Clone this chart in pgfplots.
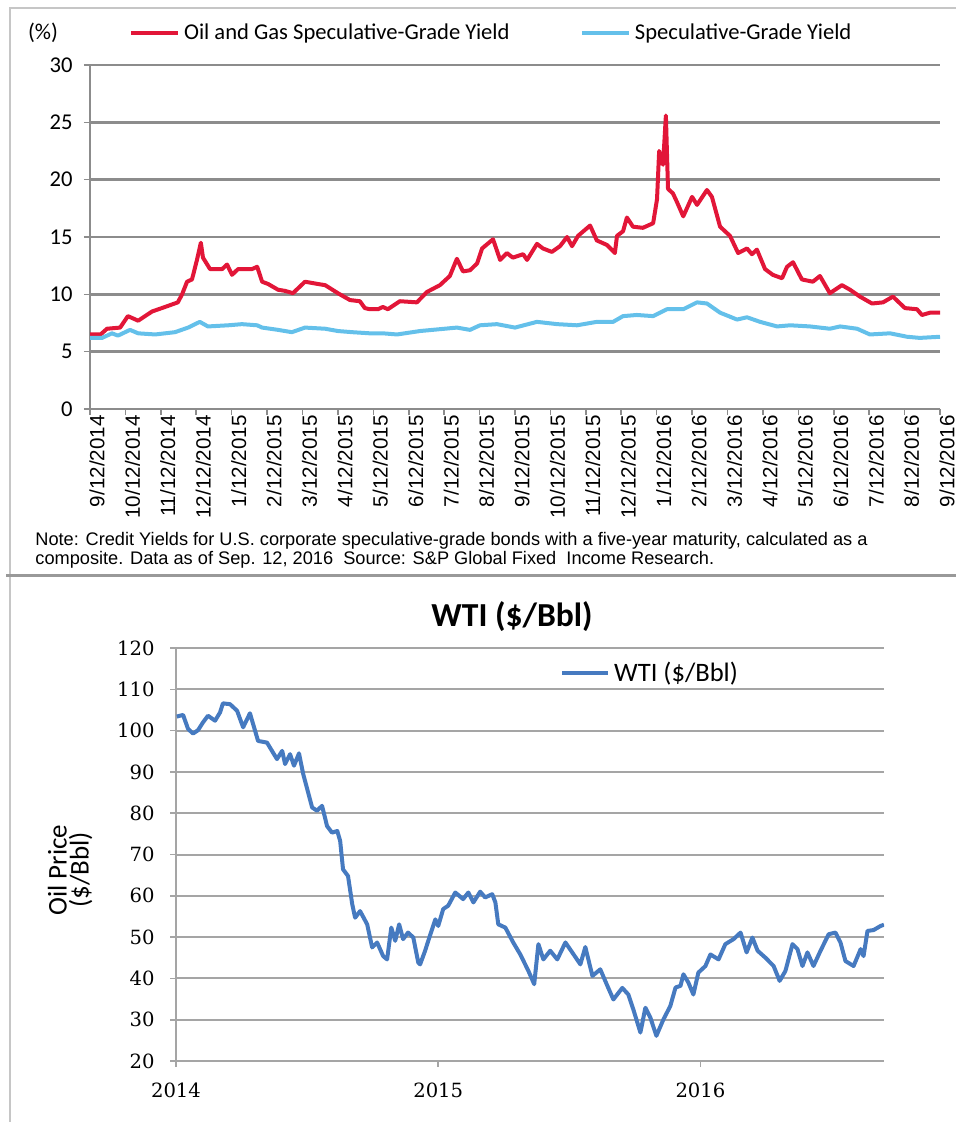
\documentclass[border=0pt]{standalone}
\usepackage{pgfplots}
\pgfplotsset{compat=1.18}
\usepackage{fontspec}
\setmainfont{Carlito}
\newfontfamily\arialf{Liberation Sans}
\newfontfamily\seriff{DejaVu Serif}
\definecolor{oilred}{RGB}{226,22,56}
\definecolor{specblue}{RGB}{100,192,234}
\definecolor{wtiblue}{RGB}{70,122,192}
\definecolor{gridgray}{RGB}{140,140,140}
\definecolor{gridlight}{RGB}{165,165,165}
\begin{document}
\begin{tikzpicture}
\path[use as bounding box] (0,0) rectangle (478pt,-561pt);
\draw[gray!45, line width=0.9pt] (5pt,-561pt) -- (5pt,-4pt) -- (478pt,-4pt);
\draw[gray!80, line width=1.5pt] (3pt,-287.5pt) -- (478pt,-287.5pt);
\node[font=\fontsize{11.3}{13}\selectfont, inner sep=0pt] at (21.5pt,-16.5pt) {(\%)};
\node[font=\arialf\fontsize{9.1}{9.6}\selectfont, anchor=west, align=left, inner sep=0pt] at (17.5pt,-275pt)
 {Note: Credit Yields for U.S. corporate speculative-grade bonds with a five-year maturity, calculated as a\\composite. Data as of Sep. 12, 2016\ \ Source: S\&P Global Fixed\ \ Income Research.};
\begin{axis}[
  at={(45pt,-204.5pt)}, anchor=south west, scale only axis,
  width=425pt, height=172pt,
  xmin=0, xmax=24, ymin=0, ymax=30,
  xtick={0,...,24},
  xticklabels={9/12/2014,10/12/2014,11/12/2014,12/12/2014,1/12/2015,2/12/2015,3/12/2015,4/12/2015,5/12/2015,6/12/2015,7/12/2015,8/12/2015,9/12/2015,10/12/2015,11/12/2015,12/12/2015,1/12/2016,2/12/2016,3/12/2016,4/12/2016,5/12/2016,6/12/2016,7/12/2016,8/12/2016,9/12/2016},
  ytick={0,5,...,30},
  axis x line*=bottom, axis y line*=left,
  axis line style={gridgray, line width=1.2pt},
  ymajorgrids, grid style={gridgray, line width=1.2pt},
  tick align=outside, major tick length=3pt,
  tick style={gridgray, line width=0.8pt},
  /pgf/number format/assume math mode=true,
  yticklabel style={font=\fontsize{11.3}{13}\selectfont, anchor=east, inner sep=0pt, xshift=-5.5pt},
  xticklabel style={font=\arialf\fontsize{10.3}{11}\selectfont, rotate=90, anchor=east, inner sep=0pt, yshift=-3.5pt},
  legend style={at={(0.045,1.093)}, anchor=west, draw=none, fill=none, inner sep=0pt,
    font=\fontsize{11.3}{13}\selectfont, legend columns=2,
    /tikz/every even column/.append style={column sep=33pt}},
  legend image code/.code={\draw[#1, line width=2.2pt] (0pt,0pt) -- (23.5pt,0pt);},
]
\addplot[oilred, line width=2pt, line join=round] coordinates {
(0.00,6.5)(0.30,6.5)(0.48,7.0)(0.85,7.1)(1.07,8.1)(1.36,7.7)(1.75,8.5)(2.12,8.9)(2.48,9.3)(2.60,10.0)
(2.74,11.1)(2.88,11.3)(3.02,13.0)(3.13,14.5)(3.19,13.2)(3.39,12.2)(3.73,12.2)(3.87,12.6)(4.01,11.7)(4.18,12.2)
(4.57,12.2)(4.72,12.4)(4.86,11.1)(5.03,10.9)(5.31,10.4)(5.51,10.3)(5.73,10.1)(6.07,11.1)(6.44,10.9)(6.64,10.8)
(7.00,10.1)(7.34,9.5)(7.62,9.4)(7.76,8.8)(7.90,8.7)(8.13,8.7)(8.27,8.9)(8.41,8.7)(8.75,9.4)(9.23,9.3)
(9.51,10.2)(9.88,10.8)(10.16,11.6)(10.36,13.1)(10.53,12.0)(10.73,12.1)(10.93,12.7)(11.07,14.0)(11.38,14.8)(11.58,13.0)
(11.77,13.6)(11.94,13.2)(12.23,13.5)(12.34,13.0)(12.62,14.4)(12.79,14.0)(13.04,13.7)(13.27,14.2)(13.47,15.0)(13.61,14.2)
(13.78,15.1)(14.12,16.0)(14.31,14.7)(14.60,14.3)(14.82,13.6)(14.88,15.1)(15.05,15.5)(15.16,16.7)(15.33,15.9)(15.61,15.8)
(15.90,16.2)(16.01,18.3)(16.07,22.5)(16.18,21.3)(16.26,25.6)(16.32,19.2)(16.46,18.8)(16.58,18.0)(16.75,16.8)(17.00,18.5)
(17.14,17.8)(17.42,19.1)(17.56,18.5)(17.79,15.9)(18.07,15.1)(18.30,13.6)(18.55,14.0)(18.69,13.5)(18.83,13.9)(19.06,12.2)
(19.28,11.7)(19.54,11.4)(19.68,12.4)(19.85,12.8)(20.10,11.3)(20.41,11.1)(20.61,11.6)(20.89,10.1)(21.23,10.8)(21.46,10.4)
(21.74,9.8)(22.08,9.2)(22.39,9.3)(22.67,9.8)(23.01,8.8)(23.35,8.7)(23.49,8.2)(23.72,8.4)(24.00,8.4)
};
\addlegendentry{Oil and Gas Speculative-Grade Yield}
\addplot[specblue, line width=2pt, line join=round] coordinates {
(0.00,6.2)(0.34,6.2)(0.62,6.6)(0.79,6.4)(1.13,6.9)(1.36,6.6)(1.84,6.5)(2.40,6.7)(2.77,7.1)(3.10,7.6)
(3.33,7.2)(3.90,7.3)(4.29,7.4)(4.72,7.3)(4.86,7.1)(5.31,6.9)(5.70,6.7)(6.07,7.1)(6.64,7.0)(7.00,6.8)
(7.40,6.7)(7.90,6.6)(8.27,6.6)(8.67,6.5)(9.32,6.8)(10.36,7.1)(10.73,6.9)(11.01,7.3)(11.49,7.4)(12.00,7.1)
(12.62,7.6)(13.19,7.4)(13.75,7.3)(14.31,7.6)(14.77,7.6)(15.05,8.1)(15.44,8.2)(15.90,8.1)(16.29,8.7)(16.75,8.7)
(17.14,9.3)(17.42,9.2)(17.79,8.4)(18.27,7.8)(18.55,8.0)(18.92,7.6)(19.40,7.2)(19.77,7.3)(20.33,7.2)(20.89,7.0)
(21.18,7.2)(21.66,7.0)(22.02,6.5)(22.59,6.6)(23.07,6.3)(23.43,6.2)(24.00,6.3)
};
\addlegendentry{Speculative-Grade Yield}
\end{axis}
\node[font=\bfseries\fontsize{16.8}{19}\selectfont, inner sep=0pt] at (256pt,-308.5pt) {WTI (\$/Bbl)};
\node[font=\fontsize{13.5}{11}\selectfont, rotate=90, align=center, inner sep=0pt] at (35pt,-435pt) {Oil Price\\(\$/Bbl)};
\begin{axis}[
  at={(88pt,-530.5pt)}, anchor=south west, scale only axis,
  width=354pt, height=206.5pt,
  xmin=0, xmax=2.70, ymin=20, ymax=120,
  xtick={0,1,2}, xticklabels={2014,2015,2016},
  ytick={20,30,...,120},
  axis x line*=bottom, axis y line*=left,
  axis line style={gridlight, line width=1pt},
  ymajorgrids, grid style={gridlight, line width=1pt},
  tick align=outside, major tick length=3pt,
  tick style={gridlight, line width=0.8pt},
  /pgf/number format/assume math mode=true,
  yticklabel style={font=\seriff\fontsize{9.8}{11}\selectfont, anchor=east, inner sep=0pt, xshift=-7.5pt},
  xticklabel style={font=\seriff\fontsize{9.8}{11}\selectfont, anchor=north, inner sep=0pt, yshift=-8pt},
  legend style={at={(0.542,0.939)}, anchor=west, draw=none, fill=none, inner sep=0pt,
    font=\fontsize{13.3}{15}\selectfont},
  legend image code/.code={\draw[#1, line width=2pt] (0pt,0pt) -- (23pt,0pt);},
]
\addplot[wtiblue, line width=2pt, line join=round] coordinates {
(0.003,103.4)(0.027,103.8)(0.046,100.4)(0.065,99.3)(0.084,100.1)(0.103,102.0)(0.122,103.6)(0.149,102.4)(0.168,104.4)(0.179,106.6)
(0.206,106.4)(0.233,104.8)(0.256,100.8)(0.282,104.2)(0.294,101.6)(0.313,97.5)(0.347,97.1)(0.366,95.1)(0.385,93.1)(0.405,95.1)
(0.416,91.9)(0.435,94.3)(0.450,91.5)(0.469,94.5)(0.485,89.5)(0.504,85.0)(0.519,81.4)(0.538,80.6)(0.557,81.8)(0.576,76.9)
(0.595,75.3)(0.615,75.7)(0.626,73.3)(0.637,66.4)(0.656,64.8)(0.672,58.0)(0.683,54.7)(0.702,56.3)(0.729,53.1)(0.748,47.5)
(0.767,48.7)(0.790,45.4)(0.805,44.6)(0.821,52.3)(0.836,49.1)(0.851,53.1)(0.866,49.5)(0.885,51.1)(0.905,49.9)(0.924,43.8)
(0.931,43.4)(0.950,46.7)(0.962,49.1)(0.989,54.3)(1.000,52.7)(1.019,56.8)(1.038,57.6)(1.065,60.8)(1.095,59.2)(1.115,60.8)
(1.134,58.4)(1.160,61.0)(1.179,59.6)(1.206,60.4)(1.218,58.4)(1.229,53.1)(1.256,52.3)(1.286,48.7)(1.313,45.8)(1.344,41.8)
(1.366,38.6)(1.382,48.3)(1.401,44.6)(1.427,46.7)(1.454,44.6)(1.485,48.7)(1.511,46.3)(1.542,43.4)(1.561,47.6)(1.588,40.6)
(1.618,42.2)(1.645,38.2)(1.668,34.9)(1.702,37.7)(1.725,36.1)(1.744,32.5)(1.771,26.9)(1.790,32.9)(1.809,30.5)(1.832,26.1)
(1.859,30.1)(1.885,33.3)(1.905,37.8)(1.924,38.2)(1.935,41.0)(1.954,39.0)(1.973,36.1)(1.992,41.4)(2.019,43.0)(2.038,45.8)
(2.069,44.6)(2.095,48.3)(2.126,49.5)(2.153,51.1)(2.176,46.3)(2.198,49.9)(2.218,46.7)(2.248,45.0)(2.279,43.0)(2.302,39.4)
(2.324,41.8)(2.351,48.3)(2.370,47.1)(2.389,43.0)(2.408,46.3)(2.431,43.0)(2.458,46.7)(2.489,50.7)(2.515,51.1)(2.534,48.7)
(2.553,44.2)(2.584,43.0)(2.611,47.1)(2.622,45.4)(2.637,51.5)(2.660,51.7)(2.687,52.7)(2.700,53.0)
};
\addlegendentry{WTI (\$/Bbl)}
\end{axis}
\end{tikzpicture}
\end{document}
